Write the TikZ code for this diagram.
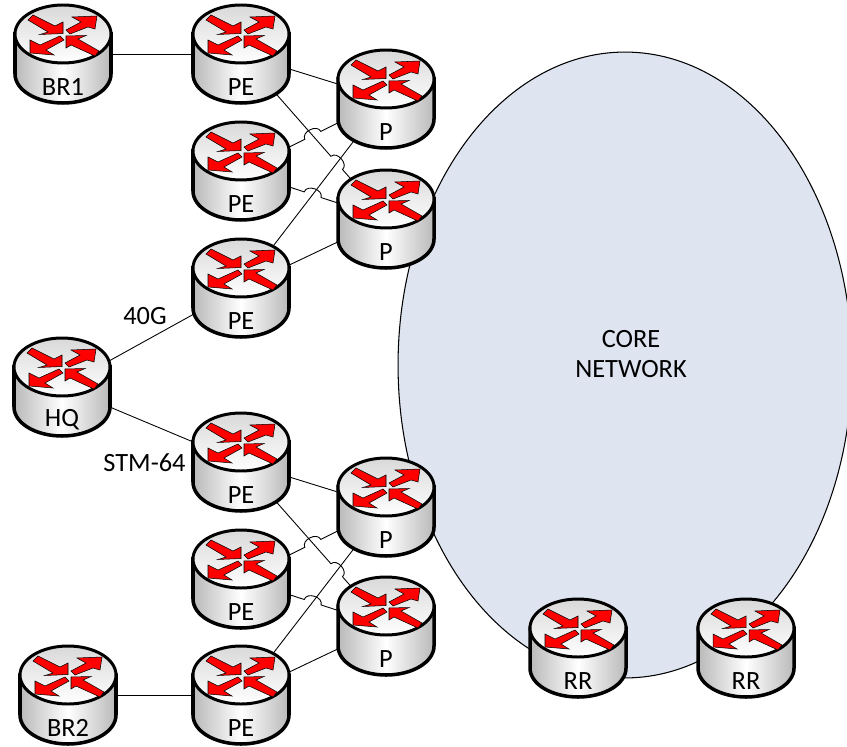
\documentclass[tikz,border=0pt]{standalone}
\usepackage{fontspec}
\setmainfont{Carlito}
\usetikzlibrary{backgrounds}
\usetikzlibrary{calc}
\usetikzlibrary{shapes.geometric}
\definecolor{corefill}{RGB}{222,229,241}
\tikzset{
    link/.style={line width=0.5pt},
    flow/.style={draw=black,line width=0.3pt,fill=red},
    plainlabel/.style={inner sep=0pt,align=center,font=\fontsize{15pt}{17.6pt}\selectfont},
    router/.pic={
        \coordinate (-c) at (0,0);
        \filldraw [line width=2pt,left color=gray!55,right color=gray!55,middle color=white]
            (-48,-20) -- (-48,20) arc [start angle=180,end angle=0,x radius=48,y radius=29] -- (48,-20) -- cycle;
        \filldraw [line width=1.7pt,top color=gray!30,bottom color=white]
            (0,-20) ellipse [x radius=48,y radius=29];
        %% four arrows
        \filldraw [flow] (-35,-34) -- (-30,-39) -- (-8,-28) -- (0,-32) -- (0,-20.5) -- (-23,-19.5) -- (-15,-22) -- cycle;
        \filldraw [flow] (3,-24) -- (18,-32) -- (9,-37) -- (34,-38) -- (32,-25) -- (25,-27) -- (7,-20) -- cycle;
        \filldraw [flow] (1,-14) -- (-17,-4) -- (-9,1) -- (-33,-1) -- (-33,-14) -- (-23,-9) -- (-3,-18) -- cycle;
        \filldraw [flow] (36,-3) -- (32,2) -- (8,-9) -- (3,-6) -- (3,-18) -- (23,-18.5) -- (15,-15) -- cycle;
        \node [plainlabel] (-label) at (0,33) {#1};
    }
}
\newcommand{\hopline}[4]{
    \draw [link] (#1) -- ($(#1)!#3!(#2)$) to [bend left=90,looseness=1.2] ($(#1)!#4!(#2)$) -- (#2);
}
\begin{document}
\begin{tikzpicture}[x=0.02cm,y=-0.02cm]
    \useasboundingbox (0,0) rectangle (847,746);
    %% routers
    \pic (br1) at (63,54) {router=BR1};
    \pic (pe1) at (241,54) {router=PE};
    \pic (pe2) at (241,171) {router=PE};
    \pic (pe3) at (241,288) {router=PE};
    \pic (p1) at (386,99) {router=P};
    \pic (p2) at (386,219) {router=P};
    \pic (hq) at (62,387) {router=HQ};
    \pic (pe4) at (241,462) {router=PE};
    \pic (pe5) at (241,579) {router=PE};
    \pic (pe6) at (241,695) {router=PE};
    \pic (p3) at (386,507) {router=P};
    \pic (p4) at (386,626) {router=P};
    \pic (br2) at (68,695) {router=BR2};
    \pic (rr1) at (578,648) {router=RR};
    \pic (rr2) at (746,648) {router=RR};
    %% labels
    \node [plainlabel] (lbl40g) at (145,316) {40G};
    \node [plainlabel] (lblstm) at (144.5,463) {STM-64};
    \begin{scope}[on background layer]
        \node [draw,fill=corefill,ellipse,minimum width=9.08cm,minimum height=12.52cm,inner sep=0pt,line width=0.6pt] (core) at (625,365) {};
        \node [plainlabel] (coretext) at (631,354) {CORE\\NETWORK};
        %% upper group
        \draw [link] (br1-c) -- (pe1-c);
        \draw [link] (pe1-c) -- (p1-c);
        \hopline{pe1-c}{p2-c}{.62}{.70}
        \hopline{pe2-c}{p1-c}{.44}{.55}
        \hopline{pe2-c}{p2-c}{.436}{.552}
        \draw [link] (pe3-c) -- (p1-c);
        \draw [link] (pe3-c) -- (p2-c);
        \draw [link] (hq-c) -- (pe3-c);
        %% lower group
        \draw [link] (hq-c) -- (pe4-c);
        \draw [link] (pe4-c) -- (p3-c);
        \hopline{pe4-c}{p4-c}{.62}{.70}
        \hopline{pe5-c}{p3-c}{.44}{.55}
        \hopline{pe5-c}{p4-c}{.436}{.552}
        \draw [link] (pe6-c) -- (p3-c);
        \draw [link] (pe6-c) -- (p4-c);
        \draw [link] (br2-c) -- (pe6-c);
    \end{scope}
\end{tikzpicture}
\end{document}
